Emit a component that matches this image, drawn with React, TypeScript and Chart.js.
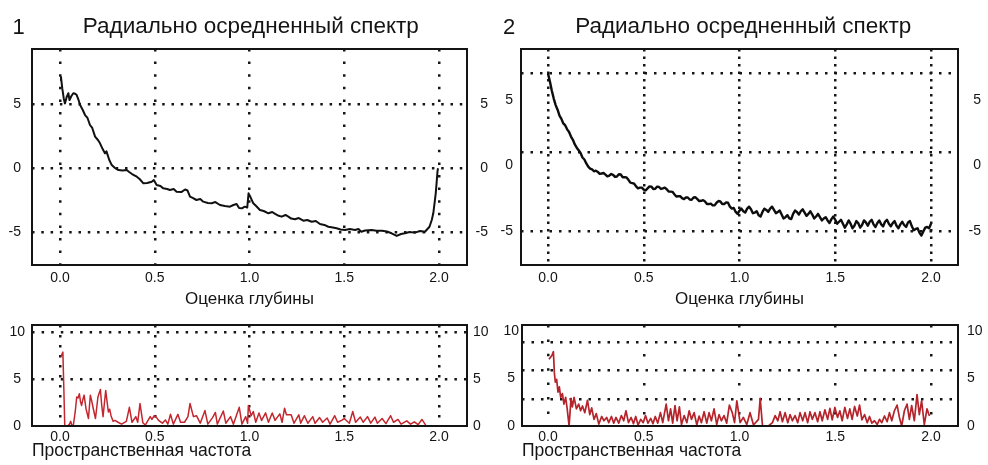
import React, { useEffect, useRef } from 'react';
import { Chart, registerables } from 'chart.js';

Chart.register(...registerables);

const FONT = '"Liberation Sans", Arial, Helvetica, sans-serif';
const INK = '#141414';
const DOT = '#161616';

// ---------- texts ----------
const panelNumbers = ['1', '2'];
const spectrumTitle = 'Радиально осредненный спектр';
const depthAxisTitle = 'Оценка глубины';
const freqAxisTitle = 'Пространственная частота';

// ---------- ticks & gridlines ----------
const xTickValues = [0, 0.5, 1, 1.5, 2];
const spectrumYTicks = [5, 0, -5];
const residualYTicks = [10, 5, 0];

const gridX = [0, 0.5, 1, 1.5, 2];
const p4GridXDense = [0];
const p4GridXSparse = [0.5, 1, 1.5, 2];
const p1GridY = [5, 0, -5];
const p2GridY = [7, 1, -5];
const p3GridY = [10, 5];
const p4GridY = [8.8, 5.8, 2.8];

// ---------- data: [spatial value, amplitude] ----------
const p1Spectrum: [number, number][] = [
  [0, 6.88], [0.005, 7.11], [0.012, 6.2], [0.02, 5.4], [0.026, 5.05], [0.035, 5.55], [0.044, 5.84], [0.05, 5.31],
  [0.06, 5.63], [0.07, 5.84], [0.08, 5.8], [0.088, 5.7], [0.098, 5.3], [0.106, 4.92], [0.12, 4.53], [0.132, 4.14],
  [0.145, 3.91], [0.158, 3.36], [0.17, 3.13], [0.185, 2.45], [0.2, 2.19], [0.211, 1.93], [0.225, 1.48], [0.237, 1.15],
  [0.245, 1.3], [0.26, 0.63], [0.273, 0.23], [0.29, 0.0], [0.308, -0.16], [0.33, -0.2], [0.352, -0.16], [0.365, -0.31],
  [0.38, -0.47], [0.405, -0.68], [0.42, -0.86], [0.44, -1.2], [0.46, -1.17], [0.484, -1.07], [0.495, -0.94], [0.51, -1.33],
  [0.53, -1.41], [0.545, -1.59], [0.565, -1.64], [0.58, -1.72], [0.6, -1.64], [0.615, -1.85], [0.64, -1.88], [0.66, -1.68],
  [0.673, -1.76], [0.686, -2.24], [0.7, -2.34], [0.72, -2.5], [0.74, -2.42], [0.756, -2.63], [0.78, -2.73], [0.8, -2.76],
  [0.82, -2.66], [0.844, -2.89], [0.87, -2.97], [0.897, -3.02], [0.915, -2.89], [0.932, -2.81], [0.945, -3.13], [0.96, -3.15],
  [0.975, -3.02], [0.988, -3.09], [0.995, -1.98], [1.005, -2.27], [1.02, -2.76], [1.035, -2.97], [1.055, -3.28], [1.075, -3.36],
  [1.1, -3.54], [1.12, -3.44], [1.135, -3.59], [1.15, -3.71], [1.17, -3.8], [1.19, -3.67], [1.205, -3.8], [1.22, -3.95],
  [1.24, -4.01], [1.26, -3.91], [1.284, -4.12], [1.305, -4.06], [1.328, -4.2], [1.35, -4.14], [1.372, -4.38], [1.395, -4.45],
  [1.416, -4.59], [1.44, -4.65], [1.46, -4.71], [1.48, -4.8], [1.504, -4.84], [1.53, -4.77], [1.557, -4.84], [1.575, -4.77],
  [1.59, -4.98], [1.61, -4.88], [1.645, -4.84], [1.67, -4.91], [1.7, -4.9], [1.725, -4.96], [1.75, -5.1], [1.777, -5.31],
  [1.8, -5.16], [1.82, -5.1], [1.845, -5.0], [1.873, -5.05], [1.9, -4.92], [1.926, -4.98], [1.95, -4.59], [1.962, -4.06],
  [1.97, -3.54], [1.977, -2.73], [1.983, -1.98], [1.988, -1.09], [1.992, -0.31], [1.995, -0.02],
];

const p2Spectrum: [number, number][] = [
  [0, 7.0], [0.01, 6.4], [0.02, 5.7], [0.03, 5.1], [0.04, 4.6], [0.05, 4.25], [0.06, 3.8], [0.07, 3.55],
  [0.08, 3.2], [0.09, 3.05], [0.1, 2.75], [0.11, 2.55], [0.12, 2.2], [0.13, 1.95], [0.14, 1.6], [0.15, 1.35],
  [0.16, 1.15], [0.17, 0.95], [0.18, 0.6], [0.19, 0.45], [0.2, 0.15], [0.21, -0.1], [0.22, -0.25], [0.23, -0.3],
  [0.24, -0.45], [0.25, -0.4], [0.26, -0.5], [0.27, -0.65], [0.28, -0.62], [0.29, -0.58], [0.3, -0.7], [0.31, -0.84],
  [0.32, -0.78], [0.33, -0.66], [0.34, -0.72], [0.35, -0.88], [0.36, -0.85], [0.37, -0.68], [0.38, -0.7], [0.39, -0.9],
  [0.4, -0.9], [0.41, -0.92], [0.42, -1.1], [0.43, -1.32], [0.44, -1.35], [0.45, -1.4], [0.46, -1.6], [0.47, -1.75],
  [0.48, -1.7], [0.49, -1.7], [0.5, -1.85], [0.51, -1.9], [0.52, -1.75], [0.53, -1.6], [0.54, -1.62], [0.55, -1.8],
  [0.56, -1.78], [0.57, -1.62], [0.58, -1.65], [0.59, -1.8], [0.6, -1.75], [0.61, -1.7], [0.62, -1.82], [0.63, -2.0],
  [0.64, -2.0], [0.65, -2.02], [0.66, -2.2], [0.67, -2.37], [0.68, -2.35], [0.69, -2.35], [0.7, -2.5], [0.71, -2.57],
  [0.72, -2.45], [0.73, -2.45], [0.74, -2.6], [0.75, -2.62], [0.76, -2.45], [0.77, -2.43], [0.78, -2.58], [0.79, -2.73],
  [0.8, -2.7], [0.81, -2.65], [0.82, -2.75], [0.83, -2.95], [0.84, -2.95], [0.85, -2.92], [0.86, -3.05], [0.87, -3.05],
  [0.88, -2.85], [0.89, -2.72], [0.9, -2.75], [0.91, -2.95], [0.92, -2.95], [0.93, -2.82], [0.94, -2.85], [0.95, -3.15],
  [0.96, -3.3], [0.97, -3.25], [0.98, -3.55], [0.99, -3.7], [1.0, -3.45], [1.01, -3.3], [1.02, -3.5], [1.03, -3.6],
  [1.04, -3.3], [1.05, -3.15], [1.06, -3.35], [1.07, -3.65], [1.08, -3.6], [1.09, -3.5], [1.1, -3.8], [1.11, -3.9],
  [1.12, -3.55], [1.13, -3.3], [1.14, -3.4], [1.15, -3.55], [1.16, -3.3], [1.17, -3.15], [1.18, -3.4], [1.19, -3.65],
  [1.2, -3.55], [1.21, -3.45], [1.22, -3.75], [1.23, -4.05], [1.24, -3.95], [1.25, -3.8], [1.26, -4.05], [1.27, -4.1],
  [1.28, -3.7], [1.29, -3.45], [1.3, -3.55], [1.31, -3.75], [1.32, -3.5], [1.33, -3.35], [1.34, -3.6], [1.35, -3.85],
  [1.36, -3.7], [1.37, -3.5], [1.38, -3.75], [1.39, -4.05], [1.4, -3.9], [1.41, -3.7], [1.42, -3.95], [1.43, -4.2],
  [1.44, -4.05], [1.45, -3.95], [1.46, -4.2], [1.47, -4.4], [1.48, -4.1], [1.49, -3.9], [1.5, -4.15], [1.51, -4.45],
  [1.52, -4.3], [1.53, -4.15], [1.54, -4.45], [1.55, -4.75], [1.56, -4.5], [1.57, -4.2], [1.58, -4.45], [1.59, -4.8],
  [1.6, -4.6], [1.61, -4.25], [1.62, -4.4], [1.63, -4.75], [1.64, -4.55], [1.65, -4.2], [1.66, -4.35], [1.67, -4.6],
  [1.68, -4.3], [1.69, -4.15], [1.7, -4.5], [1.71, -4.7], [1.72, -4.4], [1.73, -4.2], [1.74, -4.5], [1.75, -4.65],
  [1.76, -4.3], [1.77, -4.15], [1.78, -4.45], [1.79, -4.65], [1.8, -4.4], [1.81, -4.25], [1.82, -4.6], [1.83, -4.8],
  [1.84, -4.5], [1.85, -4.3], [1.86, -4.55], [1.87, -4.7], [1.88, -4.35], [1.89, -4.25], [1.9, -4.65], [1.91, -4.95],
  [1.92, -4.85], [1.93, -4.8], [1.94, -5.15], [1.95, -5.35], [1.96, -5.05], [1.97, -4.75], [1.98, -4.7], [1.99, -4.8],
  [2.0, -4.45],
];

const p3Residual: [number, number][] = [
  [0.005, 7.4], [0.015, 7.9], [0.02, 4.0], [0.025, 0], [0.04, 0], [0.05, 0.2], [0.056, 0.5], [0.062, 0.1],
  [0.07, 0.05], [0.08, 1.5], [0.088, 3.1], [0.095, 3.0], [0.102, 3.45], [0.108, 2.6], [0.114, 2.2], [0.12, 2.8],
  [0.127, 3.3], [0.137, 1.85], [0.15, 0.8], [0.16, 3.3], [0.168, 2.6], [0.175, 1.9], [0.187, 0.8], [0.2, 3.1],
  [0.213, 3.9], [0.22, 2.2], [0.227, 1.0], [0.241, 3.8], [0.255, 1.5], [0.262, 1.8], [0.269, 1.1], [0.28, 0.5],
  [0.29, 0.6], [0.306, 0.4], [0.325, 0.2], [0.35, 0.5], [0.366, 2.0], [0.38, 0.4], [0.4, 1.0], [0.41, 0.4],
  [0.422, 2.4], [0.437, 0.35], [0.45, 0.1], [0.476, 1.0], [0.485, 0.7], [0.497, 1.1], [0.51, 0.9], [0.52, 0.6],
  [0.54, 0.3], [0.556, 0.65], [0.569, 0.2], [0.583, 1.25], [0.598, 0.2], [0.622, 1.25], [0.636, 0.4], [0.657, 0.4],
  [0.675, 1.0], [0.686, 2.4], [0.704, 1.0], [0.72, 1.1], [0.74, 0.3], [0.765, 1.65], [0.78, 0.2], [0.805, 0.9],
  [0.82, 1.45], [0.83, 0.2], [0.862, 1.6], [0.875, 0.3], [0.9, 1.0], [0.915, 0.2], [0.946, 2.0], [0.96, 0.2],
  [0.98, 1.0], [0.99, 0.3], [0.994, 2.2], [1.009, 1.1], [1.02, 1.55], [1.033, 0.4], [1.05, 1.4], [1.064, 0.6],
  [1.085, 1.4], [1.1, 0.4], [1.12, 1.4], [1.135, 0.6], [1.16, 1.3], [1.172, 0.4], [1.185, 1.9], [1.195, 1.2],
  [1.22, 1.2], [1.235, 0.3], [1.26, 1.2], [1.27, 0.3], [1.29, 1.1], [1.308, 0.3], [1.334, 1.0], [1.346, 0.3],
  [1.37, 0.9], [1.386, 0.4], [1.41, 0.85], [1.425, 0.2], [1.45, 1.1], [1.465, 0.4], [1.486, 0.6], [1.5, 0.8],
  [1.527, 0.3], [1.545, 1.55], [1.56, 0.4], [1.585, 0.95], [1.6, 0.4], [1.623, 1.0], [1.64, 0.3], [1.662, 0.95],
  [1.675, 0.3], [1.7, 0.8], [1.72, 0.25], [1.745, 1.1], [1.76, 0.4], [1.784, 0.7], [1.8, 0.2], [1.83, 0.55],
  [1.85, 0.2], [1.87, 0.45], [1.89, 0.15], [1.91, 0.7], [1.93, 0.1],
];

const p4Residual: [number, number][] = [
  [0.005, 7.0], [0.02, 7.4], [0.028, 7.8], [0.033, 5.6], [0.038, 4.6], [0.045, 4.9], [0.052, 3.56], [0.059, 4.1],
  [0.066, 3.0], [0.075, 3.4], [0.083, 2.3], [0.092, 3.0], [0.1, 1.8], [0.11, 0], [0.12, 2.9], [0.127, 2.0],
  [0.136, 3.0], [0.148, 1.8], [0.16, 2.3], [0.17, 1.6], [0.18, 2.1], [0.192, 1.4], [0.206, 2.7], [0.218, 1.2],
  [0.228, 1.9], [0.24, 0.7], [0.252, 1.3], [0.265, 0.2], [0.28, 1.0], [0.292, 0.55], [0.306, 0.9], [0.317, 0.35],
  [0.331, 1.0], [0.343, 0.3], [0.355, 0.9], [0.369, 0.3], [0.383, 1.1], [0.395, 0.55], [0.407, 1.6], [0.42, 0.35],
  [0.434, 0.9], [0.446, 0.25], [0.458, 1.0], [0.47, 0.1], [0.484, 0.7], [0.497, 0.35], [0.509, 1.1], [0.522, 0.3],
  [0.536, 0.8], [0.548, 0.25], [0.56, 1.0], [0.573, 0.3], [0.587, 1.4], [0.599, 0.35], [0.617, 2.3], [0.629, 0.55],
  [0.64, 1.8], [0.651, 0.3], [0.663, 2.15], [0.674, 0.55], [0.686, 2.0], [0.697, 0.15], [0.711, 1.1], [0.725, 0.35],
  [0.737, 1.6], [0.749, 0.7], [0.763, 1.4], [0.777, 0.1], [0.789, 1.05], [0.801, 0.35], [0.815, 1.5], [0.829, 0.3],
  [0.841, 1.4], [0.853, 0.55], [0.867, 1.8], [0.881, 0.15], [0.893, 1.2], [0.905, 0.55], [0.919, 1.1], [0.933, 0.3],
  [0.947, 2.2], [0.962, 1.4], [0.974, 0.35], [0.986, 2.65], [1.003, 0.35], [1.02, 0.9], [1.038, 0.15], [1.055, 1.4],
  [1.073, 0.1], [1.099, 0.7], [1.108, 2.9], [1.12, 0], [1.151, 0], [1.172, 0.35], [1.186, 1.1], [1.2, 0.55],
  [1.212, 1.5], [1.224, 0.45], [1.238, 1.4], [1.252, 0.35], [1.264, 1.2], [1.276, 0.55], [1.29, 1.1], [1.304, 0.35],
  [1.316, 1.4], [1.33, 0.55], [1.342, 1.4], [1.356, 0.35], [1.368, 1.5], [1.38, 0.7], [1.394, 1.4], [1.408, 0.45],
  [1.42, 1.5], [1.432, 0.55], [1.446, 1.7], [1.46, 0.7], [1.472, 1.85], [1.484, 0.65], [1.498, 1.95], [1.512, 0.9],
  [1.524, 1.6], [1.536, 0.55], [1.55, 1.95], [1.564, 0.8], [1.576, 1.8], [1.588, 0.7], [1.601, 2.05], [1.615, 1.05],
  [1.627, 2.2], [1.639, 0.65], [1.653, 1.2], [1.667, 0.35], [1.679, 1.0], [1.691, 0.3], [1.705, 0.55], [1.719, 0.15],
  [1.731, 0.7], [1.743, 0.35], [1.757, 1.05], [1.771, 0.45], [1.783, 1.4], [1.795, 0.55], [1.809, 1.6], [1.823, 2.2],
  [1.835, 0.9], [1.847, 0], [1.861, 1.6], [1.875, 2.3], [1.887, 0.7], [1.899, 2.15], [1.913, 0.55], [1.927, 3.3],
  [1.939, 1.2], [1.951, 2.65], [1.965, 0.15], [1.979, 1.8], [1.992, 1.05],
];

// ---------- panel specifications (layout lives here, not in the data) ----------
type GridSpec = { values: number[]; dash: number[] };
type PanelSpec = {
  left: number; top: number; w: number; h: number; padTop: number; padRight: number;
  points: [number, number][]; color: string; lineWidth: number;
  xMin: number; xMax: number; yMin: number; yMax: number;
  xGrids: GridSpec[]; yGrid: number[]; yDash: number[];
  yLabels: number[];
  leftW: number; leftPad: number; leftAlign: string;
  rightW: number; rightPad: number; rightAlign: string;
  xAxisH: number; xTickPad: number;
  xTitle: string; xTitleSize: number; xTitleAlign: string; xTitlePadBottom: number;
};

const panels: PanelSpec[] = [
  {
    left: 0, top: 0, w: 500, h: 310, padTop: 49, padRight: 12,
    points: p1Spectrum, color: '#111111', lineWidth: 2,
    xMin: -0.148, xMax: 2.148, yMin: -7.58, yMax: 9.3,
    xGrids: [{ values: gridX, dash: [2.5, 10.1] }], yGrid: p1GridY, yDash: [2.5, 6.8],
    yLabels: spectrumYTicks,
    leftW: 32, leftPad: 11, leftAlign: 'near', rightW: 21, rightPad: 0, rightAlign: 'far',
    xAxisH: 45, xTickPad: 5, xTitle: depthAxisTitle, xTitleSize: 17, xTitleAlign: 'center', xTitlePadBottom: 0,
  },
  {
    left: 494, top: 0, w: 494, h: 310, padTop: 49, padRight: 7,
    points: p2Spectrum, color: '#0d0d0d', lineWidth: 2.4,
    xMin: -0.141, xMax: 2.141, yMin: -7.6, yMax: 8.88,
    xGrids: [{ values: gridX, dash: [2.5, 5] }], yGrid: p2GridY, yDash: [2.5, 7],
    yLabels: spectrumYTicks,
    leftW: 27, leftPad: 8, leftAlign: 'near', rightW: 23, rightPad: 0, rightAlign: 'far',
    xAxisH: 45, xTickPad: 5, xTitle: depthAxisTitle, xTitleSize: 17, xTitleAlign: 'center', xTitlePadBottom: 0,
  },
  {
    left: 0, top: 310, w: 500, h: 155, padTop: 15, padRight: 0,
    points: p3Residual, color: '#c4262e', lineWidth: 1.5,
    xMin: -0.148, xMax: 2.148, yMin: 0, yMax: 10.8,
    xGrids: [{ values: gridX, dash: [2.5, 7.5] }], yGrid: p3GridY, yDash: [2.5, 7.1],
    yLabels: residualYTicks,
    leftW: 32, leftPad: 7, leftAlign: 'center', rightW: 33, rightPad: 6, rightAlign: 'near',
    xAxisH: 39, xTickPad: 3, xTitle: freqAxisTitle, xTitleSize: 17.5, xTitleAlign: 'start', xTitlePadBottom: 3.5,
  },
  {
    left: 494, top: 310, w: 494, h: 155, padTop: 15, padRight: 0,
    points: p4Residual, color: '#b5232b', lineWidth: 1.7,
    xMin: -0.136, xMax: 2.141, yMin: 0, yMax: 10.6,
    xGrids: [{ values: p4GridXDense, dash: [2.5, 11.9] }, { values: p4GridXSparse, dash: [2.5, 26.5] }],
    yGrid: p4GridY, yDash: [2.5, 7],
    yLabels: residualYTicks,
    leftW: 28, leftPad: 3, leftAlign: 'center', rightW: 30, rightPad: 9, rightAlign: 'near',
    xAxisH: 39, xTickPad: 3, xTitle: freqAxisTitle, xTitleSize: 17.5, xTitleAlign: 'start', xTitlePadBottom: 3.5,
  },
];

// ---------- helpers ----------
const pinTicks = (vals: number[]) => (scale: any) => {
  scale.ticks = vals.map((v) => ({ value: v }));
};
const fixSize = (size: number) => (scale: any) => {
  if (scale.isHorizontal()) scale.height = size;
  else scale.width = size;
  scale.paddingTop = 0;
  scale.paddingBottom = 0;
  scale.paddingLeft = 0;
  scale.paddingRight = 0;
};

const framePlugin = {
  id: 'frame',
  afterDatasetsDraw(chart: any) {
    const { ctx, chartArea: a } = chart;
    ctx.save();
    ctx.strokeStyle = INK;
    ctx.lineWidth = 2;
    ctx.strokeRect(a.left, a.top, a.right - a.left, a.bottom - a.top);
    ctx.restore();
  },
};

function buildConfig(s: PanelSpec): any {
  const font = { family: FONT, size: 14 };
  const scales: any = {
    x: {
      type: 'linear', position: 'bottom', min: s.xMin, max: s.xMax,
      afterBuildTicks: pinTicks(xTickValues), afterFit: fixSize(s.xAxisH),
      ticks: { font, color: INK, padding: s.xTickPad, autoSkip: false, maxRotation: 0, callback: (v: any) => Number(v).toFixed(1) },
      grid: { display: false, drawTicks: false },
      border: { display: false },
      title: {
        display: true, text: s.xTitle, color: INK, align: s.xTitleAlign,
        font: { family: FONT, size: s.xTitleSize }, padding: { top: 0, bottom: s.xTitlePadBottom },
      },
    },
    y: {
      type: 'linear', position: 'left', min: s.yMin, max: s.yMax,
      afterBuildTicks: pinTicks(s.yGrid), afterFit: fixSize(0),
      ticks: { display: false },
      grid: { drawTicks: false, color: DOT, lineWidth: 2.5 },
      border: { display: false, dash: s.yDash },
    },
    yl: {
      type: 'linear', position: 'left', min: s.yMin, max: s.yMax,
      afterBuildTicks: pinTicks(s.yLabels), afterFit: fixSize(s.leftW),
      ticks: { font, color: INK, padding: s.leftPad, crossAlign: s.leftAlign, autoSkip: false, callback: (v: any) => String(v) },
      grid: { display: false, drawTicks: false },
      border: { display: false },
    },
    yr: {
      type: 'linear', position: 'right', min: s.yMin, max: s.yMax,
      afterBuildTicks: pinTicks(s.yLabels), afterFit: fixSize(s.rightW),
      ticks: { font, color: INK, padding: s.rightPad, crossAlign: s.rightAlign, autoSkip: false, callback: (v: any) => String(v) },
      grid: { display: false, drawTicks: false },
      border: { display: false },
    },
  };
  s.xGrids.forEach((g, i) => {
    scales['xg' + i] = {
      type: 'linear', position: 'bottom', min: s.xMin, max: s.xMax,
      afterBuildTicks: pinTicks(g.values), afterFit: fixSize(0),
      ticks: { display: false },
      grid: { drawTicks: false, color: DOT, lineWidth: 2.5 },
      border: { display: false, dash: g.dash },
    };
  });

  return {
    type: 'line',
    data: {
      datasets: [
        {
          data: s.points.map(([x, y]) => ({ x, y })),
          borderColor: s.color,
          borderWidth: s.lineWidth,
          borderJoinStyle: 'round',
          pointRadius: 0,
          tension: 0,
          fill: false,
          xAxisID: 'x',
          yAxisID: 'y',
        },
      ],
    },
    options: {
      responsive: false,
      animation: false,
      devicePixelRatio: 1,
      events: [],
      layout: { padding: { top: s.padTop, left: 0, right: s.padRight, bottom: 0 } },
      plugins: {
        legend: { display: false },
        tooltip: { enabled: false },
        title: { display: false },
      },
      scales,
    },
    plugins: [framePlugin],
  };
}

function Panel({ spec }: { spec: PanelSpec }) {
  const ref = useRef<HTMLCanvasElement | null>(null);
  useEffect(() => {
    const canvas = ref.current;
    if (!canvas) return;
    const chart = new Chart(canvas, buildConfig(spec));
    return () => chart.destroy();
  }, [spec]);
  return (
    <canvas
      ref={ref}
      width={spec.w}
      height={spec.h}
      style={{ position: 'absolute', left: spec.left, top: spec.top, width: spec.w, height: spec.h, display: 'block' }}
    />
  );
}

const headStyle = (center: number): React.CSSProperties => ({
  position: 'absolute', left: center - 220, width: 440, top: 13, textAlign: 'center',
  font: `22.5px ${FONT}`, lineHeight: '26px', color: INK, whiteSpace: 'nowrap',
});
const numStyle = (left: number): React.CSSProperties => ({
  position: 'absolute', left, top: 16, font: `22px ${FONT}`, lineHeight: '22px', color: INK,
});

export default function App() {
  return (
    <div style={{ position: 'absolute', left: 0, top: 0, width: 988, height: 465, overflow: 'hidden', background: '#fff' }}>
      {panels.map((p, i) => (
        <Panel key={i} spec={p} />
      ))}
      <div style={numStyle(12.6)}>{panelNumbers[0]}</div>
      <div style={numStyle(503)}>{panelNumbers[1]}</div>
      <div style={headStyle(250.8)}>{spectrumTitle}</div>
      <div style={headStyle(743.2)}>{spectrumTitle}</div>
    </div>
  );
}
